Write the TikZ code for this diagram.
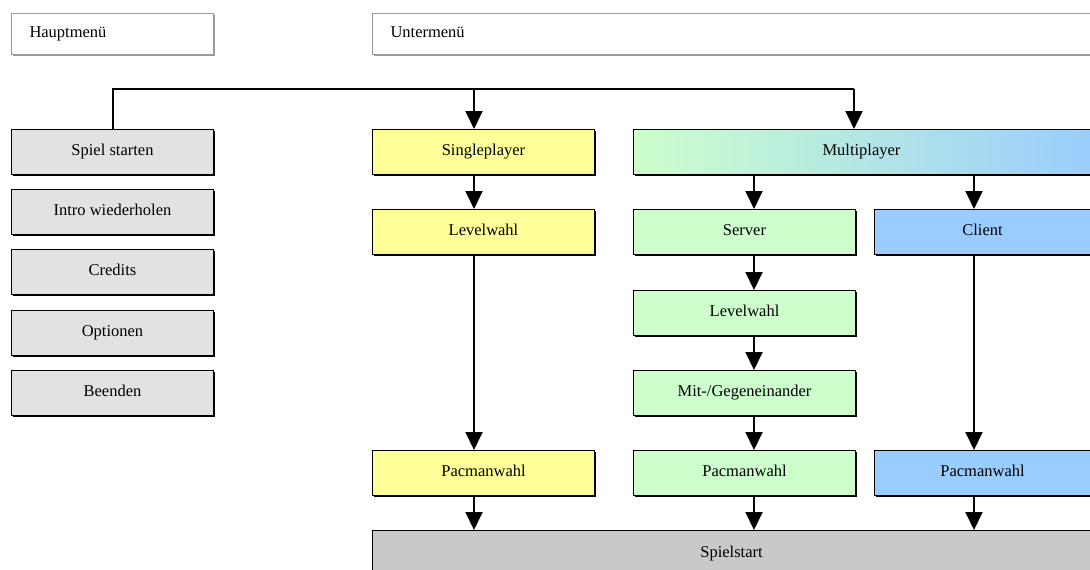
\documentclass[tikz,border=0pt]{standalone}
\usepackage{fontspec}
\setmainfont{Liberation Serif}
\usetikzlibrary{arrows.meta,shadows}
\definecolor{menugray}{HTML}{E2E2E2}
\definecolor{startgray}{HTML}{C9C9C9}
\definecolor{single}{HTML}{FFFF99}
\definecolor{server}{HTML}{CCFFCC}
\definecolor{client}{HTML}{99CCFF}
\definecolor{frame}{HTML}{999999}
\begin{document}
\begin{tikzpicture}[x=1pt,y=1pt,
  every node/.style={font=\fontsize{16.5}{19}\selectfont, inner sep=0pt, anchor=north west,
    text height=10pt, text depth=4pt},
  header/.style={draw=frame, line width=1pt, fill=white, text width=#1, align=left,
    minimum height=41, drop shadow={shadow xshift=1pt, shadow yshift=-1pt, fill=frame, opacity=1}},
  box/.style={draw=black, line width=1pt, minimum width=#1, minimum height=45, align=center,
    drop shadow={shadow xshift=1pt, shadow yshift=-1pt, fill=black, opacity=1}},
  arr/.style={line width=2pt, -{Triangle[length=18pt,width=17pt]}},
  wire/.style={line width=2pt}]
\clip (0,0) rectangle (1090,-570);
\fill[white] (0,0) rectangle (1090,-570);

% column headers
\node[header=202pt] (haupt) at (11,-13) {\hspace*{18pt}Hauptmenü};
\node[header=740pt] (unter) at (372,-13) {\hspace*{18pt}Untermenü};

% main menu entries
\node[box=202, fill=menugray] (spiel)   at (11,-129) {Spiel starten};
\node[box=202, fill=menugray] (intro)   at (11,-189) {Intro wiederholen};
\node[box=202, fill=menugray] (credits) at (11,-249) {Credits};
\node[box=202, fill=menugray] (opt)     at (11,-310) {Optionen};
\node[box=202, fill=menugray] (beenden) at (11,-370) {Beenden};

% singleplayer branch
\node[box=222, fill=single] (single) at (372,-129) {Singleplayer};
\node[box=222, fill=single] (slevel) at (372,-209) {Levelwahl};
\node[box=222, fill=single] (spac)   at (372,-450) {Pacmanwahl};

% multiplayer branch
\node[box=470, left color=server, right color=client] (multi) at (633,-129) {\hspace*{-14pt}Multiplayer};
\node[box=222, fill=server] (server) at (633,-209) {Server};
\node[box=222, fill=server] (mlevel) at (633,-290) {Levelwahl};
\node[box=222, fill=server] (mit)    at (633,-370) {Mit-/Gegeneinander};
\node[box=222, fill=server] (mpac)   at (633,-450) {Pacmanwahl};
\node[box=230, fill=client] (client) at (874,-209) {\hspace*{-14pt}Client};
\node[box=230, fill=client] (cpac)   at (874,-450) {\hspace*{-14pt}Pacmanwahl};

% game start
\node[box=730, minimum height=48, fill=startgray] (start) at (372,-530) {\hspace*{-12pt}Spielstart};

% arrow columns
\coordinate (xs) at (474,0);
\coordinate (xm) at (754,0);
\coordinate (xc) at (974,0);
\coordinate (js) at (474,-89);
\coordinate (jm) at (854,-89);

% connectors
\draw[wire] (spiel.north) |- (jm);
\draw[arr] (jm) -- (jm |- multi.north);
\draw[arr] (js) -- (js |- single.north);

\draw[arr] (single.south -| xs) -- (slevel.north -| xs);
\draw[arr] (slevel.south -| xs) -- (spac.north -| xs);
\draw[arr] (spac.south -| xs) -- (start.north -| xs);

\draw[arr] (multi.south -| xm) -- (server.north -| xm);
\draw[arr] (server.south -| xm) -- (mlevel.north -| xm);
\draw[arr] (mlevel.south -| xm) -- (mit.north -| xm);
\draw[arr] (mit.south -| xm) -- (mpac.north -| xm);
\draw[arr] (mpac.south -| xm) -- (start.north -| xm);

\draw[arr] (multi.south -| xc) -- (client.north -| xc);
\draw[arr] (client.south -| xc) -- (cpac.north -| xc);
\draw[arr] (cpac.south -| xc) -- (start.north -| xc);
\end{tikzpicture}
\end{document}
